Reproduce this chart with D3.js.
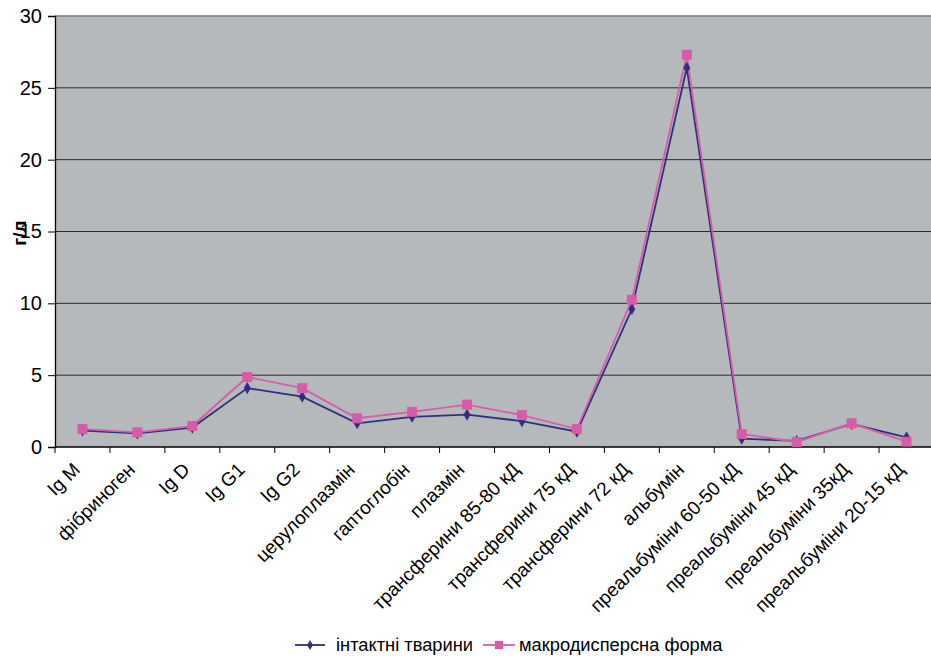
<!DOCTYPE html>
<html>
<head>
<meta charset="utf-8">
<script src="https://cdn.jsdelivr.net/npm/d3@7"></script>
<style>
  html, body { margin: 0; padding: 0; background: #ffffff; }
  svg { display: block; font-family: "Liberation Sans", Arial, sans-serif; }
</style>
</head>
<body>
<svg id="chart" width="931" height="659"></svg>
<script>
// Protein fractions of blood serum, g/l
const categories = [
  "Ig M", "фібриноген", "Ig D", "Ig G1", "Ig G2", "церулоплазмін",
  "гаптоглобін", "плазмін", "трансферини 85-80 кД", "трансферини 75 кД",
  "трансферини 72 кД", "альбумін", "преальбуміни 60-50 кД",
  "преальбуміни 45 кД", "преальбуміни 35кД", "преальбуміни 20-15 кД"
];
const intactValues = [1.15, 0.95, 1.35, 4.1, 3.5, 1.65, 2.1, 2.25, 1.8, 1.07, 9.6, 26.4, 0.58, 0.42, 1.6, 0.67];
const macroValues  = [1.25, 1.02, 1.46, 4.87, 4.1, 2.0, 2.45, 2.95, 2.22, 1.25, 10.25, 27.3, 0.9, 0.35, 1.65, 0.37];
const yTicks = [0, 5, 10, 15, 20, 25, 30];
const seriesNames = ["інтактні тварини", "макродисперсна форма"];
const yLabel = "г/л";

const svg = d3.select("#chart");
const plot = { left: 55, top: 16, right: 934, bottom: 447 };

const x = d3.scaleBand().domain(categories).range([plot.left, plot.right]).padding(0);
const y = d3.scaleLinear().domain([0, 30]).range([plot.bottom, plot.top]);

// plot background
svg.append("rect")
  .attr("x", plot.left).attr("y", plot.top)
  .attr("width", plot.right - plot.left).attr("height", plot.bottom - plot.top)
  .attr("fill", "#b6b9bb");

// horizontal gridlines
svg.append("g").selectAll("line")
  .data(yTicks.filter(d => d > 0 && d < 30))
  .join("line")
  .attr("x1", plot.left).attr("x2", plot.right)
  .attr("y1", d => y(d)).attr("y2", d => y(d))
  .attr("stroke", "#2a2a2a").attr("stroke-width", 1);

// top border
svg.append("line")
  .attr("x1", plot.left).attr("x2", plot.right)
  .attr("y1", y(30)).attr("y2", y(30))
  .attr("stroke", "#7a7a7a").attr("stroke-width", 1.5);

// y axis
const yAxis = d3.axisLeft(y).tickValues(yTicks).tickSize(7).tickPadding(6);
const gy = svg.append("g").attr("transform", `translate(${plot.left},0)`).call(yAxis);
gy.select(".domain").attr("stroke", "#000").attr("stroke-width", 1.3);
gy.selectAll(".tick line").attr("stroke", "#000");
gy.selectAll(".tick text").attr("font-size", 20).attr("fill", "#000")
  .attr("font-family", "Liberation Sans, Arial, sans-serif");

// x axis with ticks on category boundaries
const boundaries = categories.map(c => x(c)).concat([plot.right]);
svg.append("line")
  .attr("x1", plot.left).attr("x2", plot.right)
  .attr("y1", plot.bottom).attr("y2", plot.bottom)
  .attr("stroke", "#000").attr("stroke-width", 1.3);
svg.append("g").selectAll("line")
  .data(boundaries)
  .join("line")
  .attr("x1", d => d).attr("x2", d => d)
  .attr("y1", plot.bottom).attr("y2", plot.bottom + 6)
  .attr("stroke", "#000");

// rotated category labels
svg.append("g").selectAll("text")
  .data(categories)
  .join("text")
  .attr("transform", d => `translate(${x(d) + x.bandwidth() / 2 - 6},${plot.bottom + 19}) rotate(-45)`)
  .attr("text-anchor", "end")
  .attr("dy", "0.35em")
  .attr("font-size", 19)
  .attr("fill", "#000")
  .text(d => d);

// y axis title
svg.append("text")
  .attr("transform", `translate(26,233) rotate(-90)`)
  .attr("text-anchor", "middle")
  .attr("font-size", 19)
  .attr("font-weight", "bold")
  .attr("fill", "#000")
  .text(yLabel);

const cx = d => x(d) + x.bandwidth() / 2;
const line = d3.line().x(d => cx(d.cat)).y(d => y(d.v));
const series = [
  { name: seriesNames[0], values: intactValues, color: "#2e2f80", shape: d3.symbolDiamond, size: 42 },
  { name: seriesNames[1], values: macroValues, color: "#d65ca9", shape: d3.symbolSquare, size: 100 }
];
series.forEach(s => {
  s.points = categories.map((c, i) => ({ cat: c, v: s.values[i] }));
});

series.forEach(s => {
  svg.append("path")
    .datum(s.points)
    .attr("d", line)
    .attr("fill", "none")
    .attr("stroke", s.color)
    .attr("stroke-width", 1.8);
});
series.forEach(s => {
  svg.append("g").selectAll("path")
    .data(s.points)
    .join("path")
    .attr("transform", d => `translate(${cx(d.cat)},${y(d.v)})`)
    .attr("d", d3.symbol().type(s.shape).size(s.size))
    .attr("fill", s.color);
});

// legend
const legendY = 645;
const legendItems = [
  { s: series[0], x0: 295, x1: 325, tx: 336 },
  { s: series[1], x0: 483, x1: 515, tx: 519 }
];
legendItems.forEach(it => {
  const g = svg.append("g");
  g.append("line")
    .attr("x1", it.x0).attr("x2", it.x1)
    .attr("y1", legendY).attr("y2", legendY)
    .attr("stroke", it.s.color).attr("stroke-width", 1.8);
  g.append("path")
    .attr("transform", `translate(${(it.x0 + it.x1) / 2},${legendY})`)
    .attr("d", d3.symbol().type(it.s.shape).size(it.s.size * 0.7))
    .attr("fill", it.s.color);
  g.append("text")
    .attr("x", it.tx).attr("y", legendY)
    .attr("dy", "0.35em")
    .attr("font-size", 18.3)
    .attr("fill", "#000")
    .text(it.s.name);
});
</script>
</body>
</html>
